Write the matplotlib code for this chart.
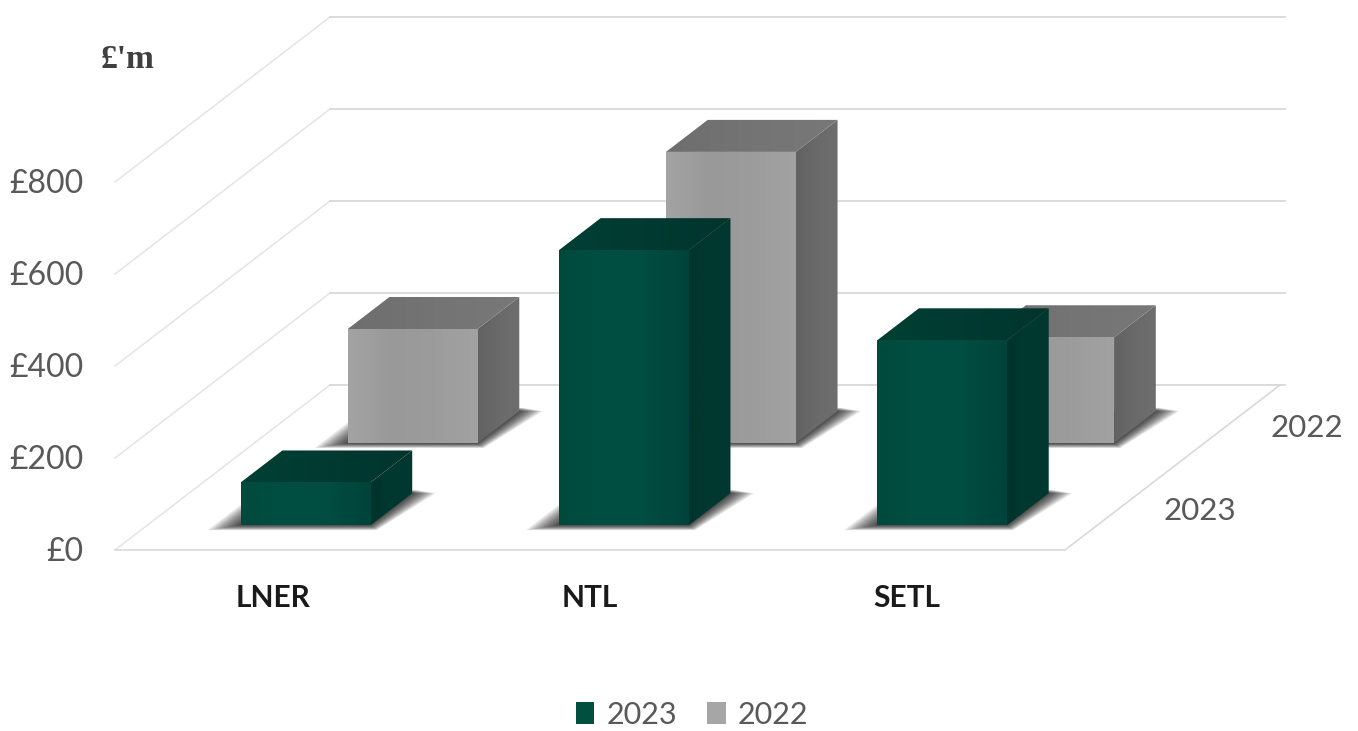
import matplotlib
matplotlib.use("Agg")
import matplotlib.pyplot as plt
import numpy as np
from matplotlib.colors import LinearSegmentedColormap
from matplotlib.patches import Patch, Polygon

plt.rcParams["font.family"] = ["Lato", "DejaVu Sans"]

categories = ["LNER", "NTL", "SETL"]
series_names = ["2023", "2022"]
values_2023 = [93, 598, 402]
values_2022 = [248, 633, 230]
y_ticks = [0, 200, 400, 600, 800]
y_tick_labels = ["£0", "£200", "£400", "£600", "£800"]

W, H = 1358, 731
PX_PER_CAT = 316.67
PX_PER_VAL = 0.46
FLOOR_LEFT = 115
FLOOR_Y = 550

# oblique projection: one unit of depth moves this far along x (categories) and y (value)
DEPTH_X = 215 / PX_PER_CAT
DEPTH_Y = 165 / PX_PER_VAL

BAR_W = 0.41
BAR_D = 0.194
BAR_STEP = 1.005

GRID = "#d9d9d9"
GRID_SIDE = "#e4e4e4"
TEXT = "#595959"

GREEN = dict(front=["#004a3c", "#004f43", "#004d41", "#00433a"],
             side=["#00332b", "#003930", "#00372e"],
             top=["#003f35", "#003a30", "#00352c"],
             swatch="#004f3f")
GREY = dict(front=["#a3a3a3", "#999999", "#9c9c9c", "#a2a2a2"],
            side=["#626262", "#6a6a6a", "#6e6e6e"],
            top=["#6e6e6e", "#747474", "#787878"],
            swatch="#a6a6a6")


def project(x, depth, value):
    return x + depth * DEPTH_X, value + depth * DEPTH_Y


def shaded_face(ax, corners, colors, zorder):
    # horizontal gradient clipped to a polygon
    corners = np.array(corners)
    cmap = LinearSegmentedColormap.from_list("face", colors)
    x0, x1 = corners[:, 0].min(), corners[:, 0].max()
    y0, y1 = corners[:, 1].min(), corners[:, 1].max()
    im = ax.imshow(np.linspace(0, 1, 64)[None, :], cmap=cmap, aspect="auto",
                   extent=(x0, x1, y0, y1), zorder=zorder, interpolation="bilinear")
    clip = Polygon(corners, closed=True, transform=ax.transData)
    im.set_clip_path(clip)


def draw_shadow(ax, x0, x1, depth, zorder):
    # soft footprint on the floor, built from stacked translucent polygons
    for grow in np.linspace(1, 0, 16):
        d0 = depth - BAR_D / 2 - 0.03 * grow
        d1 = depth + BAR_D / 2 + 0.02 * (1 - grow)
        pts = [project(x0 - 0.085 * grow, d0, 0), project(x1 + 0.04 * grow, d0, 0),
               project(x1 + 0.075 * grow, d1, 0), project(x0 - 0.085 * grow, d1, 0)]
        ax.add_patch(Polygon(pts, closed=True, facecolor="black", edgecolor="none",
                             alpha=0.07, zorder=zorder))


def draw_bar(ax, cat, depth, value, style, zorder):
    centre = 0.5 + cat * BAR_STEP
    x0 = centre - BAR_W / 2
    x1 = centre + BAR_W / 2
    d0 = depth - BAR_D / 2
    d1 = depth + BAR_D / 2
    draw_shadow(ax, x0, x1, depth, zorder)
    shaded_face(ax, [project(x1, d0, 0), project(x1, d1, 0),
                     project(x1, d1, value), project(x1, d0, value)],
                style["side"], zorder + 0.1)
    shaded_face(ax, [project(x0, d0, value), project(x1, d0, value),
                     project(x1, d1, value), project(x0, d1, value)],
                style["top"], zorder + 0.2)
    shaded_face(ax, [project(x0, d0, 0), project(x1, d0, 0),
                     project(x1, d0, value), project(x0, d0, value)],
                style["front"], zorder + 0.3)


fig = plt.figure(figsize=(W / 100, H / 100), dpi=100)
ax = fig.add_axes([0, 0, 1, 1])
ax.axis("off")

xlim = (-FLOOR_LEFT / PX_PER_CAT, (W - FLOOR_LEFT) / PX_PER_CAT)
ylim = ((FLOOR_Y - H) / PX_PER_VAL, FLOOR_Y / PX_PER_VAL)

n = len(categories)

# walls and floor
for v in y_ticks:
    xs, ys = zip(project(0, 0, v), project(0, 1, v))
    ax.plot(xs, ys, color=GRID_SIDE, lw=1.1, zorder=1)
    xs, ys = zip(project(0, 1, v), project(n + 0.015, 1, v))
    ax.plot(xs, ys, color=GRID, lw=1.3, zorder=1)
xs, ys = zip(project(0, 0, 0), project(n, 0, 0), project(n, 1, 0))
ax.plot(xs, ys, color=GRID, lw=1.2, zorder=1)

# back row first so the front row overlaps it
for i in range(n):
    draw_bar(ax, i, 0.745, values_2022[i], GREY, 2)
for i in range(n):
    draw_bar(ax, i, 0.247, values_2023[i], GREEN, 3 + i * 0.5)

for v, lab in zip(y_ticks, y_tick_labels):
    ax.text(-0.1, v - 4, lab, ha="right", va="center", fontsize=23, color=TEXT)

for i, lab in enumerate(categories):
    ax.text(i + 0.5, -104, lab, ha="center", va="center", fontsize=21.5,
            fontweight="bold", color="#1a1a1a")

for d, lab in zip([0.25, 0.75], series_names):
    lx, ly = project(n, d, 0)
    ax.text(lx + 0.14, ly - 4, lab, ha="left", va="center", fontsize=22.5, color=TEXT)

fig.text(101 / W, 1 - 60 / H, "£'m", ha="left", va="center", fontsize=24,
         fontweight="bold", color="#404040", family=["Liberation Serif", "DejaVu Serif"])

handles = [Patch(facecolor=GREEN["swatch"], edgecolor="none", label=series_names[0]),
           Patch(facecolor=GREY["swatch"], edgecolor="none", label=series_names[1])]
ax.legend(handles=handles, ncol=2, frameon=False, loc="center",
          bbox_to_anchor=(692 / W, 1 - 715 / H), fontsize=22, labelcolor=TEXT,
          handlelength=0.6, handleheight=0.72, handletextpad=0.4, columnspacing=1.0,
          borderpad=0, borderaxespad=0)

ax.set_xlim(xlim)
ax.set_ylim(ylim)

fig.savefig("out.png", dpi=100, facecolor="white")
